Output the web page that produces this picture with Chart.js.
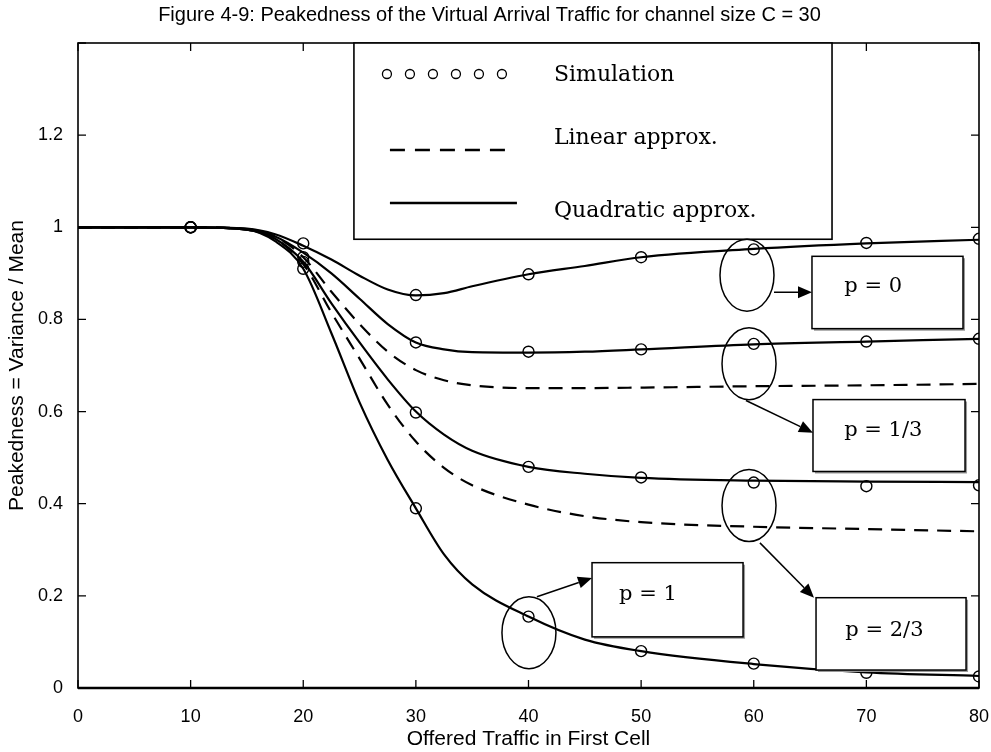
<!DOCTYPE html>
<html>
<head>
<meta charset="utf-8">
<script src="https://cdn.jsdelivr.net/npm/chart.js@4.4.1/dist/chart.umd.min.js"></script>
<style>
  html, body { margin: 0; padding: 0; background: #fff; }
  canvas { display: block; }
</style>
</head>
<body>
<canvas id="peakChart" width="991" height="752"></canvas>
<script>
// Figure 4-9 - peakedness of virtual arrival traffic, C = 30

const xTicks = [0, 10, 20, 30, 40, 50, 60, 70, 80];
const yTicks = [0, 0.2, 0.4, 0.6, 0.8, 1, 1.2, 1.4];

// simulation results (circles)
const simX = [10, 20, 30, 40, 50, 60, 70, 80];
const simP0 = [1.0, 0.965, 0.853, 0.898, 0.935, 0.952, 0.966, 0.975];
const simP13 = [1.0, 0.935, 0.750, 0.730, 0.735, 0.747, 0.752, 0.758];
const simP23 = [1.0, 0.925, 0.598, 0.480, 0.457, 0.446, 0.438, 0.440];
const simP1 = [1.0, 0.910, 0.390, 0.155, 0.080, 0.053, 0.033, 0.025];

// approximation curves
const curveX = [0, 10, 15, 17.5, 20, 22.5, 25, 27.5, 30, 32.5, 35, 40, 45, 50, 60, 70, 80];
const quadP0 = [1, 1, 0.997, 0.985, 0.96, 0.93, 0.895, 0.865, 0.852, 0.857, 0.872, 0.898, 0.916, 0.935, 0.953, 0.965, 0.973];
const quadP13 = [1, 1, 0.996, 0.98, 0.945, 0.90, 0.845, 0.79, 0.75, 0.735, 0.729, 0.728, 0.730, 0.735, 0.746, 0.752, 0.758];
const linP13 = [1, 1, 0.996, 0.98, 0.935, 0.86, 0.79, 0.73, 0.69, 0.668, 0.657, 0.651, 0.651, 0.652, 0.655, 0.657, 0.66];
const quadP23 = [1, 1, 0.995, 0.975, 0.925, 0.835, 0.75, 0.67, 0.60, 0.55, 0.515, 0.48, 0.465, 0.456, 0.45, 0.448, 0.447];
const linP23 = [1, 1, 0.995, 0.975, 0.92, 0.815, 0.715, 0.615, 0.535, 0.478, 0.44, 0.398, 0.373, 0.36, 0.35, 0.345, 0.34];
const quadP1 = [1, 1, 0.995, 0.97, 0.91, 0.77, 0.62, 0.495, 0.39, 0.29, 0.225, 0.155, 0.105, 0.08, 0.052, 0.034, 0.026];

const legendLabels = ['Simulation', 'Linear approx.', 'Quadratic approx.'];
const calloutLabels = ['p = 0', 'p = 1/3', 'p = 2/3', 'p = 1'];

const pts = (xs, ys) => xs.map((x, i) => ({ x: x, y: ys[i] }));
const SERIF = '"DejaVu Serif", "Liberation Serif", serif';

function solid(label, ys) {
    return {
        label: label, data: pts(curveX, ys), showLine: true,
        borderColor: '#000', borderWidth: 2.2,
        pointRadius: 0, fill: false,
        cubicInterpolationMode: 'monotone'
    };
}
function dashed(label, ys) {
    const ds = solid(label, ys);
    ds.borderDash = [14, 9];
    return ds;
}
function sim(label, ys) {
    return {
        label: label, data: pts(simX, ys), showLine: false,
        pointStyle: 'circle', pointRadius: 5.5, borderWidth: 1.4,
        borderColor: '#000', backgroundColor: 'rgba(0,0,0,0)'
    };
}

// frame plus inward pointing ticks (matlab look)
const frameTicks = {
    id: 'frameTicks',
    beforeDatasetsDraw(chart) {
        const { ctx, chartArea: a, scales: { x, y } } = chart;
        ctx.save();
        ctx.strokeStyle = '#000';
        ctx.lineWidth = 1.3;
        ctx.beginPath();
        xTicks.forEach(v => {
            const px = x.getPixelForValue(v);
            ctx.moveTo(px, a.bottom); ctx.lineTo(px, a.bottom - 8);
            ctx.moveTo(px, a.top); ctx.lineTo(px, a.top + 8);
        });
        yTicks.forEach(v => {
            const py = y.getPixelForValue(v);
            ctx.moveTo(a.left, py); ctx.lineTo(a.left + 8, py);
            ctx.moveTo(a.right, py); ctx.lineTo(a.right - 8, py);
        });
        ctx.stroke();
        ctx.lineWidth = 1.6;
        ctx.strokeRect(a.left, a.top, a.right - a.left, a.bottom - a.top);
        ctx.lineWidth = 2.6;
        ctx.beginPath();
        ctx.moveTo(a.left, a.bottom); ctx.lineTo(a.right, a.bottom);
        ctx.stroke();
        ctx.restore();
    }
};

// legend box and the p = ... callouts
const callouts = [
    { text: calloutLabels[0], ell: [59.4, 0.896], from: [61.8, 0.859], to: [65.17, 0.859], box: [65.17, 0.937, 78.58, 0.780], txt: [70.6, 0.872] },
    { text: calloutLabels[1], ell: [59.58, 0.704], from: [59.31, 0.624], to: [65.26, 0.554], box: [65.26, 0.626, 78.76, 0.470], txt: [71.5, 0.559] },
    { text: calloutLabels[2], ell: [59.58, 0.396], from: [60.55, 0.315], to: [65.35, 0.196], box: [65.53, 0.196, 78.85, 0.039], txt: [71.6, 0.124] },
    { text: calloutLabels[3], ell: [40.04, 0.120], from: [40.75, 0.198], to: [45.64, 0.239], box: [45.64, 0.272, 59.05, 0.111], txt: [50.6, 0.202] }
];

function arrow(ctx, x1, y1, x2, y2) {
    const ang = Math.atan2(y2 - y1, x2 - x1);
    const len = 14, half = 6;
    const bx = x2 - len * Math.cos(ang), by = y2 - len * Math.sin(ang);
    ctx.beginPath();
    ctx.moveTo(x1, y1); ctx.lineTo(bx, by);
    ctx.stroke();
    ctx.beginPath();
    ctx.moveTo(x2, y2);
    ctx.lineTo(bx + half * Math.sin(ang), by - half * Math.cos(ang));
    ctx.lineTo(bx - half * Math.sin(ang), by + half * Math.cos(ang));
    ctx.closePath();
    ctx.fill();
}

const overlay = {
    id: 'overlay',
    afterDatasetsDraw(chart) {
        const { ctx, scales: { x, y } } = chart;
        const X = v => x.getPixelForValue(v), Y = v => y.getPixelForValue(v);
        ctx.save();
        ctx.strokeStyle = '#000';
        ctx.fillStyle = '#000';

        // legend
        const L = X(24.5), T = Y(1.4), R = X(66.95), B = Y(0.974);
        ctx.fillStyle = '#fff';
        ctx.fillRect(L, T, R - L, B - T);
        ctx.lineWidth = 1.6;
        ctx.strokeRect(L, T, R - L, B - T);
        ctx.fillStyle = '#000';
        ctx.lineWidth = 1.3;
        for (let i = 0; i < 6; i++) {
            ctx.beginPath();
            ctx.arc(L + 33 + i * 23, T + 31, 4.5, 0, Math.PI * 2);
            ctx.stroke();
        }
        ctx.lineWidth = 2.6;
        ctx.setLineDash([15, 10]);
        ctx.beginPath();
        ctx.moveTo(L + 36, T + 107); ctx.lineTo(L + 155, T + 107);
        ctx.stroke();
        ctx.setLineDash([]);
        ctx.beginPath();
        ctx.moveTo(L + 36, T + 160); ctx.lineTo(L + 163, T + 160);
        ctx.stroke();
        ctx.font = '22px ' + SERIF;
        ctx.textBaseline = 'alphabetic';
        ctx.textAlign = 'left';
        ctx.fillText(legendLabels[0], L + 200, T + 38);
        ctx.fillText(legendLabels[1], L + 200, T + 101);
        ctx.fillText(legendLabels[2], L + 200, T + 174);

        // callouts
        ctx.font = '21px ' + SERIF;
        ctx.lineWidth = 1.5;
        callouts.forEach(c => {
            ctx.beginPath();
            ctx.ellipse(X(c.ell[0]), Y(c.ell[1]), 27, 36, 0, 0, Math.PI * 2);
            ctx.stroke();
            arrow(ctx, X(c.from[0]), Y(c.from[1]), X(c.to[0]), Y(c.to[1]));
            const bl = X(c.box[0]), bt = Y(c.box[1]), br = X(c.box[2]), bb = Y(c.box[3]);
            ctx.fillStyle = '#fff';
            ctx.fillRect(bl, bt, br - bl, bb - bt);
            ctx.strokeStyle = '#999';
            ctx.lineWidth = 2;
            ctx.beginPath();
            ctx.moveTo(bl + 2, bb + 1); ctx.lineTo(br + 1, bb + 1); ctx.lineTo(br + 1, bt + 2);
            ctx.stroke();
            ctx.strokeStyle = '#000';
            ctx.lineWidth = 1.5;
            ctx.strokeRect(bl, bt, br - bl, bb - bt);
            ctx.fillStyle = '#000';
            ctx.textAlign = 'center';
            ctx.textBaseline = 'middle';
            ctx.fillText(c.text, X(c.txt[0]), Y(c.txt[1]));
        });
        ctx.restore();
    }
};

Chart.defaults.font.family = '"Liberation Sans", Arial, sans-serif';
Chart.defaults.color = '#000';

new Chart(document.getElementById('peakChart').getContext('2d'), {
    type: 'scatter',
    data: {
        datasets: [
            solid('Quadratic p=0', quadP0),
            solid('Quadratic p=1/3', quadP13),
            dashed('Linear p=1/3', linP13),
            solid('Quadratic p=2/3', quadP23),
            dashed('Linear p=2/3', linP23),
            solid('Quadratic p=1', quadP1),
            sim('Simulation p=0', simP0),
            sim('Simulation p=1/3', simP13),
            sim('Simulation p=2/3', simP23),
            sim('Simulation p=1', simP1)
        ]
    },
    options: {
        responsive: false,
        animation: false,
        layout: { padding: { top: 0, right: 12, left: 0, bottom: 0 } },
        plugins: {
            legend: { display: false },
            tooltip: { enabled: false },
            title: {
                display: true,
                text: 'Figure 4-9: Peakedness of the Virtual Arrival Traffic for channel size C = 30',
                font: { size: 20, weight: 'normal' },
                padding: { top: 3, bottom: 16 }
            }
        },
        scales: {
            x: {
                type: 'linear', min: 0, max: 80,
                afterBuildTicks: s => { s.ticks = xTicks.map(v => ({ value: v })); },
                afterFit: s => { s.height = 64; s.paddingLeft = 0; s.paddingRight = 0; },
                grid: { display: false },
                border: { display: false },
                ticks: { font: { size: 18 }, padding: 10, maxRotation: 0 },
                title: {
                    display: true, text: 'Offered Traffic in First Cell',
                    font: { size: 21 }, padding: { top: 0, bottom: 0 }
                }
            },
            y: {
                type: 'linear', min: 0, max: 1.4,
                afterBuildTicks: s => { s.ticks = yTicks.map(v => ({ value: v })); },
                afterFit: s => { s.width = 78; s.paddingTop = 0; s.paddingBottom = 0; },
                grid: { display: false },
                border: { display: false },
                ticks: {
                    font: { size: 18 }, padding: 7,
                    callback: v => (v > 1.3 ? '' : String(+v.toFixed(1)))
                },
                title: {
                    display: true, text: 'Peakedness = Variance / Mean',
                    font: { size: 21 }, padding: { top: 5, bottom: 0 }
                }
            }
        }
    },
    plugins: [frameTicks, overlay]
});
</script>
</body>
</html>
